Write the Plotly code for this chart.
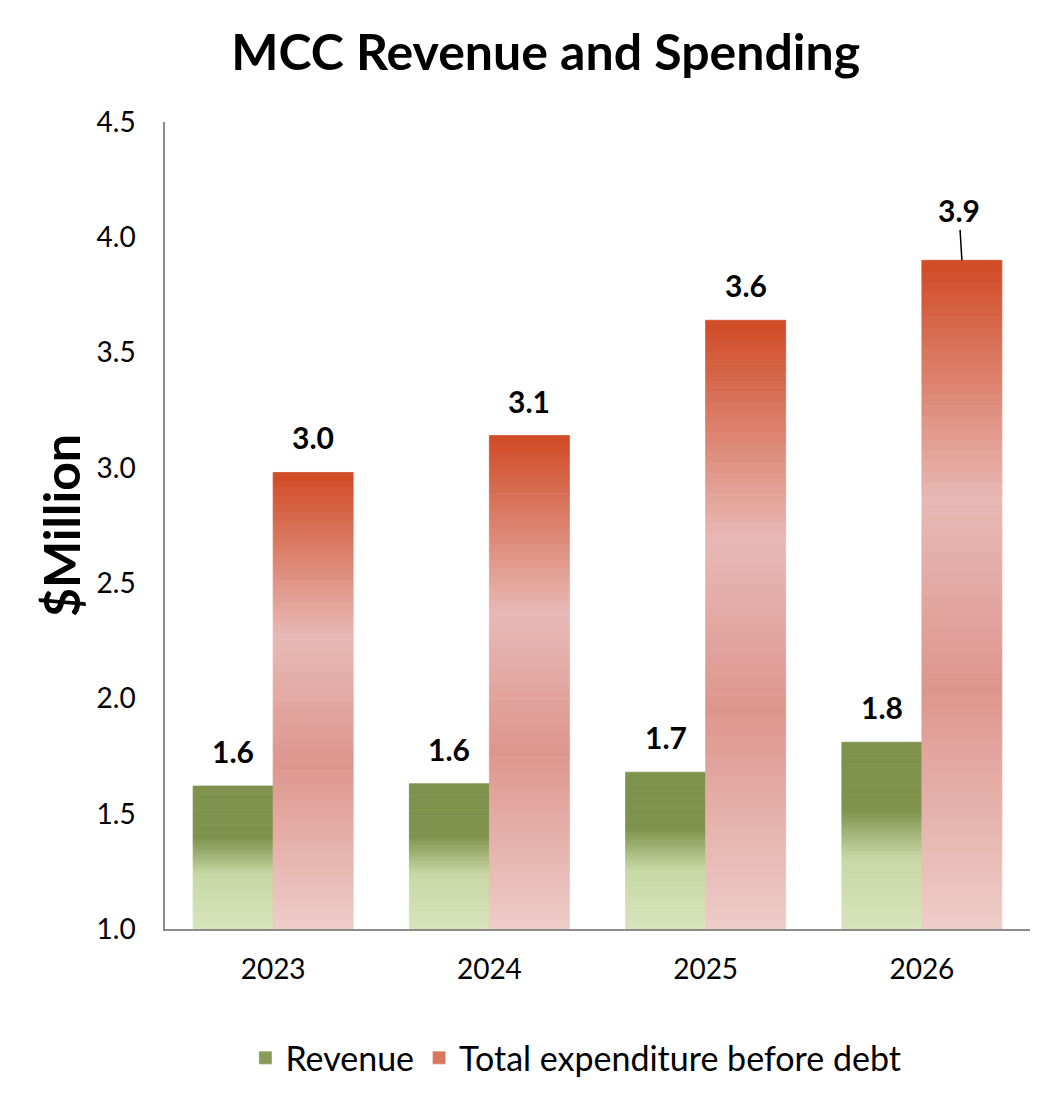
import plotly.graph_objects as go

# data ($ million)
years = ["2023", "2024", "2025", "2026"]
revenue = [1.62, 1.63, 1.68, 1.81]
expenditure = [2.98, 3.14, 3.64, 3.90]
labels_rev = ["1.6", "1.6", "1.7", "1.8"]
labels_exp = ["3.0", "3.1", "3.6", "3.9"]

y_floor = 1.0
n_steps = 60
bar_w = 0.37  # each bar's width in category units

# gradient stops, measured from the top of the bar down
green_stops = [(0.0, (127, 146, 76)), (0.36, (127, 146, 76)), (0.62, (200, 216, 165)), (1.0, (216, 228, 188))]
red_stops = [(0.0, (208, 74, 37)), (0.36, (232, 185, 181)), (0.64, (221, 150, 141)), (1.0, (238, 205, 201))]


def colour_at(stops, t):
    for (t0, c0), (t1, c1) in zip(stops[:-1], stops[1:]):
        if t <= t1:
            f = 0 if t1 == t0 else (t - t0) / (t1 - t0)
            return "rgb(%d,%d,%d)" % tuple(round(a + (b - a) * f) for a, b in zip(c0, c1))
    return "rgb(%d,%d,%d)" % stops[-1][1]


fig = go.Figure()


def add_gradient_bar(values, name, stops, offset, legend_t):
    # one bar drawn as a stack of thin slices to fake the vertical gradient
    heights = [(v - y_floor) / n_steps for v in values]
    legend_k = int((1 - legend_t) * n_steps)
    for k in range(n_steps):
        t = 1 - (k + 0.5) / n_steps  # fraction from top
        c = colour_at(stops, t)
        fig.add_trace(go.Bar(
            x=years,
            y=heights,
            base=[y_floor + h * k for h in heights],
            width=bar_w,
            offset=offset,
            marker=dict(color=c, line=dict(width=0.8, color=c)),  # outline hides the seams
            legendgroup=name,
            name=name,
            showlegend=(k == legend_k),
            hoverinfo="skip",
        ))


add_gradient_bar(revenue, "Revenue", green_stops, -bar_w, 0.4)
add_gradient_bar(expenditure, "Total expenditure before debt", red_stops, 0, 0.15)

# page body has an 8px margin, so the figure is a bit smaller than the window
W, H = 1040, 1094
ml, mr, mt, mb = 157, 18, 114, 173
cat_px = (W - ml - mr) / len(years)
bar_px = cat_px * bar_w

label_font = dict(family="Lato", size=30, color="black")
for i in range(len(years)):
    fig.add_annotation(x=i, y=revenue[i], text="<b>%s</b>" % labels_rev[i], showarrow=False,
                       xshift=-bar_px / 2, yanchor="bottom", yshift=15, font=label_font)
    if i < len(years) - 1:
        fig.add_annotation(x=i, y=expenditure[i], text="<b>%s</b>" % labels_exp[i], showarrow=False,
                           xshift=bar_px / 2, yanchor="bottom", yshift=15, font=label_font)
    else:
        # this one was dragged up in the original, with a leader line
        fig.add_annotation(x=i, y=expenditure[i], text="<b>%s</b>" % labels_exp[i], showarrow=True,
                           xshift=bar_px / 2, ax=-3, ay=-50, arrowhead=0, arrowwidth=1.5,
                           arrowcolor="black", standoff=0, font=label_font)

fig.update_layout(
    width=W, height=H,
    margin=dict(l=ml, r=mr, t=mt, b=mb),
    paper_bgcolor="white", plot_bgcolor="white",
    barmode="overlay",
    font=dict(family="Lato", size=28, color="black"),
    title=dict(text="<b>MCC Revenue and Spending</b>", font=dict(size=50, family="Lato"),
               x=0.517, xref="container", xanchor="center", y=0.959, yref="container", yanchor="middle"),
    legend=dict(orientation="h", x=0.475, xanchor="center", y=0.04, yref="container", yanchor="middle",
                font=dict(size=34), traceorder="normal", itemwidth=30),
    showlegend=True,
)
fig.update_yaxes(range=[1.0, 4.5], dtick=0.5, tickformat=".1f", showgrid=False, zeroline=False,
                 showline=True, linecolor="#8c8c8c", linewidth=1.5, ticks="", ticklabelstandoff=22,
                 automargin=False,
                 title=dict(text="<b>$Million</b>", font=dict(size=50), standoff=0))
fig.update_xaxes(type="category", range=[-0.5, 3.5], showgrid=False, showline=True, linecolor="#8c8c8c",
                 linewidth=1.5, ticks="", ticklabelstandoff=15, automargin=False)

fig.write_html("out.html")
